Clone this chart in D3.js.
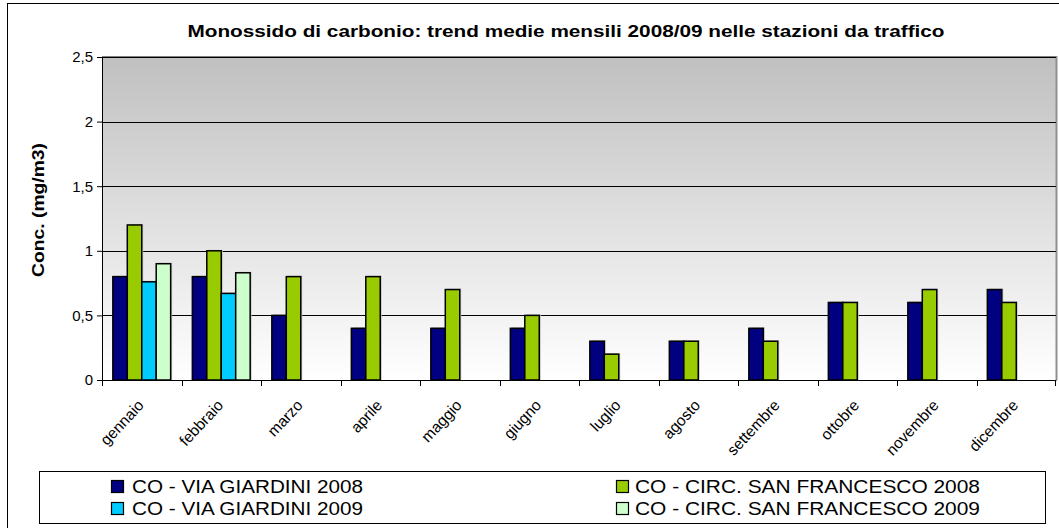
<!DOCTYPE html>
<html>
<head>
<meta charset="utf-8">
<script src="https://cdn.jsdelivr.net/npm/d3@7"></script>
<style>
  body { margin: 0; background: #fff; }
  svg { display: block; font-family: "Liberation Sans", Arial, sans-serif; }
</style>
</head>
<body>
<svg id="chart" width="1059" height="528"></svg>
<script>
const months = ["gennaio","febbraio","marzo","aprile","maggio","giugno","luglio","agosto","settembre","ottobre","novembre","dicembre"];
const seriesNames = ["CO - VIA GIARDINI  2008","CO - CIRC. SAN FRANCESCO 2008","CO - VIA GIARDINI  2009","CO - CIRC. SAN FRANCESCO 2009"];
const viaGiardini2008 = [0.8,0.8,0.5,0.4,0.4,0.4,0.3,0.3,0.4,0.6,0.6,0.7];
const circSanFrancesco2008 = [1.2,1.0,0.8,0.8,0.7,0.5,0.2,0.3,0.3,0.6,0.7,0.6];
const viaGiardini2009 = [0.76,0.67,null,null,null,null,null,null,null,null,null,null];
const circSanFrancesco2009 = [0.9,0.83,null,null,null,null,null,null,null,null,null,null];
const seriesColors = ["#000080","#99CC00","#00CCFF","#CCFFCC"];
const yTicks = [0,0.5,1,1.5,2,2.5];
const titleText = "Monossido di carbonio: trend medie mensili 2008/09 nelle stazioni da traffico";
const yTitle = "Conc. (mg/m3)";

const seriesValues = [viaGiardini2008, circSanFrancesco2008, viaGiardini2009, circSanFrancesco2009];

const svg = d3.select("#chart");
const L = 102, R = 1056, T = 57, B = 380;

svg.append("rect").attr("x",7.5).attr("y",3.5).attr("width",1060).attr("height",530)
  .attr("fill","#fff").attr("stroke","#000").attr("stroke-width",1);

const defs = svg.append("defs");
const grad = defs.append("linearGradient").attr("id","bg").attr("x1",0).attr("y1",0).attr("x2",0).attr("y2",1);
grad.append("stop").attr("offset","0%").attr("stop-color","#C0C0C0");
grad.append("stop").attr("offset","100%").attr("stop-color","#FFFFFF");

const x = d3.scaleBand().domain(months).range([L,R]).paddingInner(0).paddingOuter(0);
const step = x.step();
const bw = step/5.5;
const xs = d3.scaleBand().domain(d3.range(4)).range([(step-4*bw)/2, (step-4*bw)/2 + 4*bw]).padding(0);
const y = d3.scaleLinear().domain([0,2.5]).range([B,T]);

svg.append("rect").attr("x",L).attr("y",T).attr("width",R-L).attr("height",B-T).attr("fill","url(#bg)");
svg.append("line").attr("x1",L).attr("x2",R).attr("y1",T-0.5).attr("y2",T-0.5).attr("stroke","#808080").attr("stroke-width",1);
svg.append("line").attr("x1",R+0.5).attr("x2",R+0.5).attr("y1",T-1).attr("y2",B).attr("stroke","#909090").attr("stroke-width",2);

svg.append("g").selectAll("line").data(yTicks.filter(d=>d>0)).join("line")
  .attr("x1",L).attr("x2",R).attr("y1",d=>Math.round(y(d))+0.5).attr("y2",d=>Math.round(y(d))+0.5)
  .attr("stroke","#000").attr("stroke-width",1);

const barData = [];
months.forEach((m,i)=>{
  seriesValues.forEach((vals,s)=>{
    if (vals[i] != null) barData.push({m, s, v: vals[i]});
  });
});
svg.append("g").selectAll("rect").data(barData).join("rect")
  .attr("x", d => x(d.m) + xs(d.s) + 1.5)
  .attr("y", d => y(d.v) - 1)
  .attr("width", xs.bandwidth())
  .attr("height", d => B - y(d.v) + 1)
  .attr("fill","#c4c4c4");
svg.append("g").selectAll("rect").data(barData).join("rect")
  .attr("x", d => x(d.m) + xs(d.s))
  .attr("y", d => y(d.v))
  .attr("width", xs.bandwidth())
  .attr("height", d => B - y(d.v))
  .attr("fill", d => seriesColors[d.s])
  .attr("stroke","#000").attr("stroke-width",1.5);

const yAxis = d3.axisLeft(y).tickValues(yTicks).tickSize(5).tickPadding(4)
  .tickFormat(d => String(d).replace(".", ","));
const gy = svg.append("g").attr("transform",`translate(${L},0)`).call(yAxis);
gy.select(".domain").attr("stroke","#000");
gy.selectAll("text").attr("font-size","15px").attr("fill","#000").attr("font-family","Liberation Sans, Arial, sans-serif");

const xAxis = d3.axisBottom(x).tickSize(0).tickFormat("");
const gx = svg.append("g").attr("transform",`translate(0,${B})`).call(xAxis);
gx.select(".domain").attr("stroke","#000");
svg.append("g").selectAll("line").data(months.concat(["_end"])).join("line")
  .attr("x1",(d,i)=> i<months.length ? Math.round(x(d))+0.5 : R-0.5)
  .attr("x2",(d,i)=> i<months.length ? Math.round(x(d))+0.5 : R-0.5)
  .attr("y1",B).attr("y2",B+6).attr("stroke","#000");

svg.append("g").selectAll("text").data(months).join("text")
  .attr("transform", d => `translate(${x(d)+step/2+3},${B+26}) rotate(-47)`)
  .attr("text-anchor","end")
  .attr("font-size","15.5px")
  .text(d=>d);

svg.append("text").attr("x",566).attr("y",37).attr("text-anchor","middle")
  .attr("font-size","16px").attr("font-weight","bold")
  .attr("textLength",757).attr("lengthAdjust","spacingAndGlyphs")
  .text(titleText);

svg.append("text").attr("transform","translate(44,210) rotate(-90)")
  .attr("text-anchor","middle").attr("font-size","16px").attr("font-weight","bold")
  .attr("textLength",134).attr("lengthAdjust","spacingAndGlyphs")
  .text(yTitle);

svg.append("rect").attr("x",39.5).attr("y",471.5).attr("width",1006).attr("height",52)
  .attr("fill","#fff").attr("stroke","#000");
const legPos = [
  {x:111, y:480, tx:132, w:231},
  {x:616, y:480, tx:635, w:345},
  {x:111, y:502, tx:132, w:231},
  {x:616, y:502, tx:635, w:345}
];
const lg = svg.append("g").selectAll("g").data(seriesNames).join("g");
lg.append("rect").attr("x",(d,i)=>legPos[i].x+0.5).attr("y",(d,i)=>legPos[i].y+0.5)
  .attr("width",12).attr("height",12).attr("fill",(d,i)=>seriesColors[i]).attr("stroke","#000").attr("stroke-width",1.2);
lg.append("text").attr("x",(d,i)=>legPos[i].tx).attr("y",(d,i)=>legPos[i].y+13)
  .attr("font-size","19px").attr("textLength",(d,i)=>legPos[i].w).attr("lengthAdjust","spacingAndGlyphs")
  .text(d=>d);
</script>
</body>
</html>
